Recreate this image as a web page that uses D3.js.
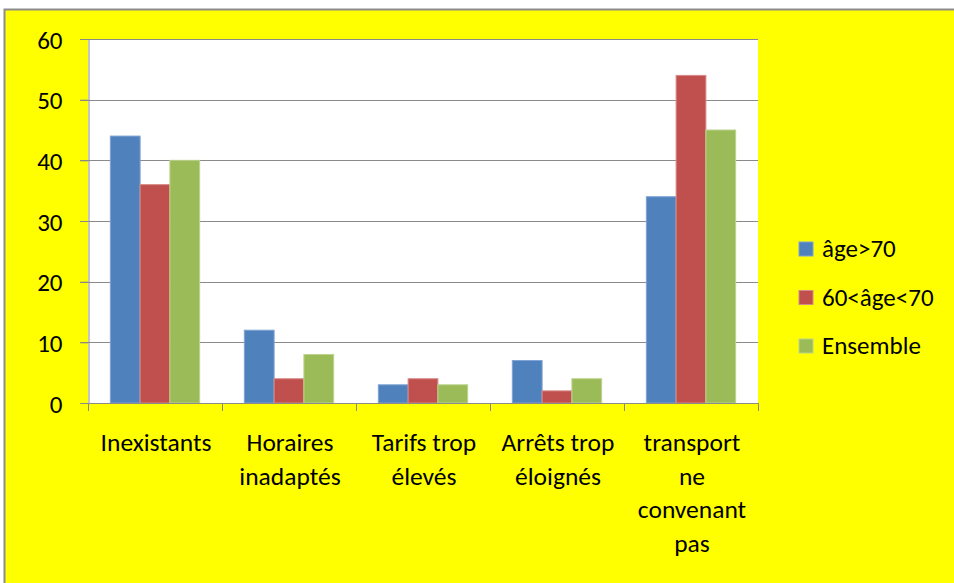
<!DOCTYPE html>
<html><head><meta charset="utf-8">
<script src="https://cdn.jsdelivr.net/npm/d3@7"></script>
<style>body{margin:0;background:#fff;} svg{display:block;} text{font-family:Carlito, Calibri, Lato, "Liberation Sans", sans-serif;}</style>
</head><body><svg id="c" width="954" height="583"></svg>
<script>
const categories = [["Inexistants"],["Horaires","inadaptés"],["Tarifs trop","élevés"],["Arrêts trop","éloignés"],["transport","ne","convenant","pas"]];
const seriesNames = ["âge>70","60<âge<70","Ensemble"];
const ageOver70 = [44,12,3,7,34];
const age60to70 = [36,4,4,2,54];
const ensemble = [40,8,3,4,45];
const yTicks = [0,10,20,30,40,50,60];
const colors = ["#4F81BD","#C0504D","#9BBB59"];
const strokes = ["#7FA3D3","#D88A88","#BCD38E"];

const series = [ageOver70, age60to70, ensemble];
const svg = d3.select("#c");
svg.append("rect").attr("x",0).attr("y",0).attr("width",954).attr("height",583).attr("fill","#fff");
svg.append("rect").attr("x",4.5).attr("y",9.5).attr("width",960).attr("height",600).attr("fill","#FFFF00").attr("stroke","#8c8c8c").attr("stroke-width",2);

const L=88,R=758,T=39,B=403;
const x = d3.scaleBand().domain(d3.range(5)).range([L,R]).paddingInner(0).paddingOuter(0);
const y = d3.scaleLinear().domain([0,60]).range([B,T]);
svg.append("rect").attr("x",L).attr("y",T).attr("width",R-L).attr("height",B-T).attr("fill","#fff");

// gridlines
svg.append("g").selectAll("line").data(yTicks.filter(d=>d>0)).join("line")
  .attr("x1",L-8).attr("x2",R).attr("y1",d=>Math.round(y(d))+0.5).attr("y2",d=>Math.round(y(d))+0.5)
  .attr("stroke","#8a8a8a").attr("stroke-width",1);

const bw = x.bandwidth()/4.5;
const g = svg.append("g");
series.forEach((s,si)=>{
  g.selectAll(null).data(s).join("rect")
    .attr("x",(d,i)=>x(i)+0.75*bw+si*bw)
    .attr("y",d=>y(d)).attr("width",bw).attr("height",d=>B-y(d))
    .attr("fill",colors[si]).attr("stroke",strokes[si]).attr("stroke-width",1);
});

// axes
const ya = d3.axisLeft(y).tickValues(yTicks).tickSize(8).tickPadding(18);
const yg = svg.append("g").attr("transform",`translate(${L+0.5},0)`).call(ya);
yg.select(".domain").attr("stroke","#8a8a8a");
yg.selectAll(".tick line").attr("stroke","#8a8a8a");
yg.selectAll("text").attr("font-size",25).attr("fill","#000").attr("font-family","Carlito, Calibri, Lato, sans-serif").attr("dy","0.36em");

svg.append("line").attr("x1",L).attr("x2",R).attr("y1",B+0.5).attr("y2",B+0.5).attr("stroke","#8a8a8a");
svg.append("g").selectAll("line").data(d3.range(6)).join("line")
  .attr("x1",d=>Math.round(L+d*x.step())+0.5).attr("x2",d=>Math.round(L+d*x.step())+0.5)
  .attr("y1",B).attr("y2",B+8).attr("stroke","#8a8a8a");

const lab = svg.append("g");
categories.forEach((lines,i)=>{
  const t = lab.append("text").attr("text-anchor","middle").attr("font-size",25.5).attr("fill","#000");
  lines.forEach((ln,j)=>{
    t.append("tspan").attr("x",x(i)+x.bandwidth()/2+1).attr("y",451+j*33.5).text(ln);
  });
});

// legend
const lg = svg.append("g");
seriesNames.forEach((n,i)=>{
  const yy = 249+i*48.5;
  lg.append("rect").attr("x",799).attr("y",yy-7).attr("width",14).attr("height",14).attr("fill",colors[i]).attr("stroke",strokes[i]);
  lg.append("text").attr("x",822).attr("y",yy+8).attr("font-size",25).attr("fill","#000").text(n);
});
</script></body></html>
